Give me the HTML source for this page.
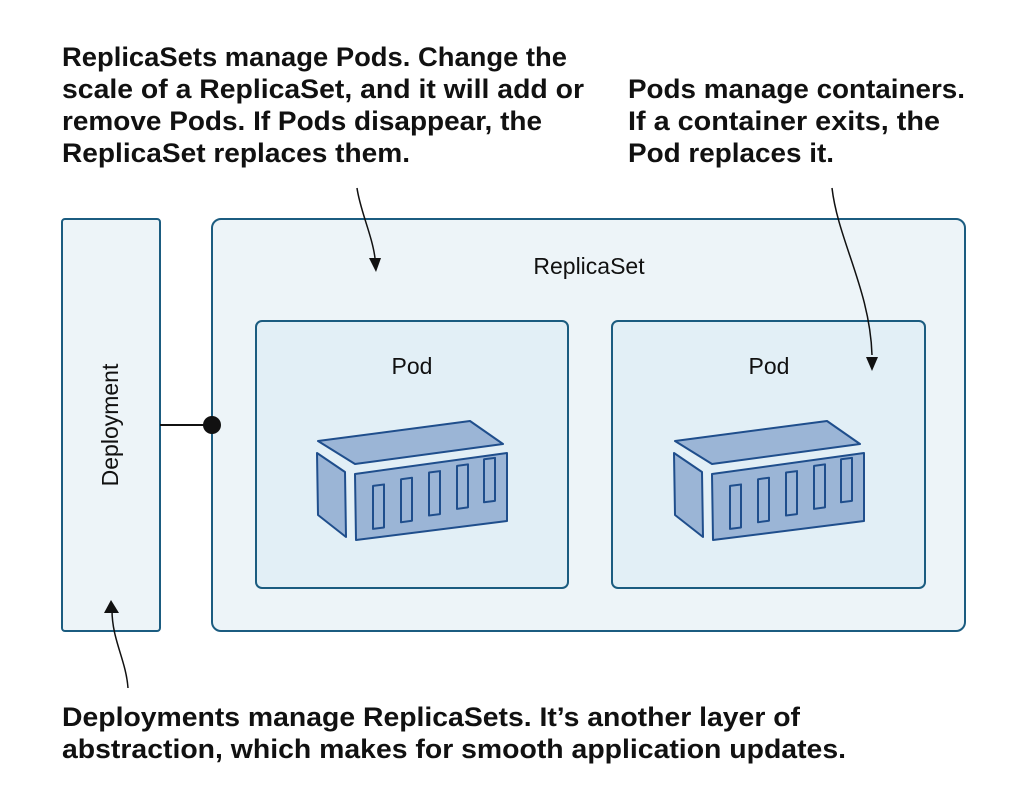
<!DOCTYPE html>
<html><head><meta charset="utf-8"><style>
html,body{margin:0;padding:0;background:#fff}
svg{display:block}
.c{font-family:"Liberation Sans",sans-serif;font-weight:bold;font-size:27px;fill:#111}
.l{font-family:"Liberation Sans",sans-serif;font-size:23px;fill:#111}
</style></head><body>
<svg width="1024" height="801" viewBox="0 0 1024 801" xmlns="http://www.w3.org/2000/svg">
<defs>
<g id="ct" stroke="#1f4e8c" stroke-width="2" fill="#9bb5d6" stroke-linejoin="round">
<polygon points="318,441 470,421 503,444 355,464"/>
<polygon points="317,453 345,472 346,537 318,515"/>
<polygon points="355,474 507,453 507,521 356,540"/>
<rect x="373" y="486" width="11" height="43" transform="skewY(-7.5) translate(0,49)"/>
<rect x="401" y="483" width="11" height="43" transform="skewY(-7.5) translate(0,49)"/>
<rect x="429" y="480" width="11" height="43" transform="skewY(-7.5) translate(0,49)"/>
<rect x="457" y="477" width="11" height="43" transform="skewY(-7.5) translate(0,49)"/>
<rect x="484" y="474" width="11" height="43" transform="skewY(-7.5) translate(0,49)"/>
</g>
</defs>
<text class="c" x="62" y="66" textLength="505" lengthAdjust="spacingAndGlyphs">ReplicaSets manage Pods. Change the</text>
<text class="c" x="62" y="98" textLength="522" lengthAdjust="spacingAndGlyphs">scale of a ReplicaSet, and it will add or</text>
<text class="c" x="62" y="130" textLength="480" lengthAdjust="spacingAndGlyphs">remove Pods. If Pods disappear, the</text>
<text class="c" x="62" y="162" textLength="348" lengthAdjust="spacingAndGlyphs">ReplicaSet replaces them.</text>
<text class="c" x="628" y="98" textLength="337" lengthAdjust="spacingAndGlyphs">Pods manage containers.</text>
<text class="c" x="628" y="130" textLength="312" lengthAdjust="spacingAndGlyphs">If a container exits, the</text>
<text class="c" x="628" y="162" textLength="206" lengthAdjust="spacingAndGlyphs">Pod replaces it.</text>
<text class="c" x="62" y="726" textLength="738" lengthAdjust="spacingAndGlyphs">Deployments manage ReplicaSets. It’s another layer of</text>
<text class="c" x="62" y="758" textLength="784" lengthAdjust="spacingAndGlyphs">abstraction, which makes for smooth application updates.</text>

<rect x="62" y="219" width="98" height="412" rx="3" fill="#edf4f8" stroke="#1b5c80" stroke-width="2"/>
<text class="l" transform="translate(118,425) rotate(-90)" text-anchor="middle">Deployment</text>
<rect x="212" y="219" width="753" height="412" rx="9" fill="#edf4f8" stroke="#1b5c80" stroke-width="2"/>
<text class="l" x="589" y="274" text-anchor="middle">ReplicaSet</text>
<rect x="256" y="321" width="312" height="267" rx="6" fill="#e2eff6" stroke="#1b5c80" stroke-width="2"/>
<rect x="612" y="321" width="313" height="267" rx="6" fill="#e2eff6" stroke="#1b5c80" stroke-width="2"/>
<text class="l" x="412" y="374" text-anchor="middle">Pod</text>
<text class="l" x="769" y="374" text-anchor="middle">Pod</text>
<use href="#ct"/>
<use href="#ct" transform="translate(357,0)"/>

<line x1="160" y1="425" x2="212" y2="425" stroke="#111" stroke-width="2"/>
<circle cx="212" cy="425" r="9" fill="#111"/>

<g fill="none" stroke="#111" stroke-width="1.5">
<path d="M357,188 C360,210 372,235 375,258"/>
<path d="M832,188 C838,240 870,290 872,355"/>
<path d="M128,688 C126,660 112,640 112,610"/>
</g>
<g fill="#111">
<polygon points="369,258 381,258 376,272"/>
<polygon points="866,357 878,357 872,371"/>
<polygon points="104,613 119,613 111,600"/>
</g>
</svg>
</body></html>
